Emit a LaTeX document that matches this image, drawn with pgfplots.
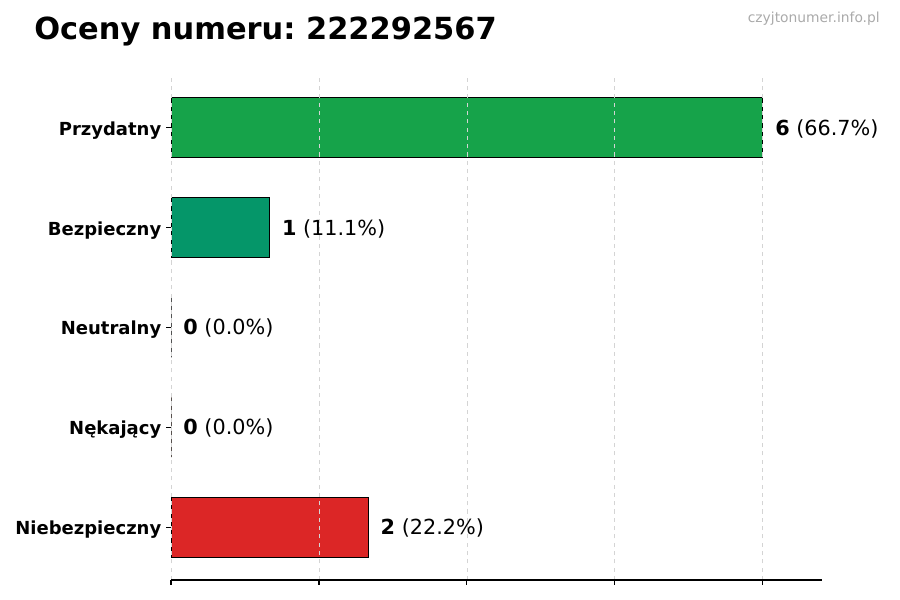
\documentclass[border=0pt]{standalone}
\usepackage{fontspec}
\setmainfont{DejaVu Sans}
\usepackage{pgfplots}
\pgfplotsset{compat=1.18}
\definecolor{przyd}{HTML}{16A34A}
\definecolor{bezp}{HTML}{059669}
\definecolor{neut}{HTML}{6B7280}
\definecolor{nekaj}{HTML}{EA580C}
\definecolor{niebe}{HTML}{DC2626}
\definecolor{gridc}{HTML}{D4D4D4}
\definecolor{wmk}{HTML}{AAAAAA}
\frenchspacing

\begin{document}
\begin{tikzpicture}[x=0.72bp,y=0.72bp]
\path[use as bounding box] (0,0) rectangle (900,600);
\node[anchor=base west, inner sep=0pt, font=\fontsize{22}{26}\selectfont\bfseries] at (34,560) {Oceny numeru: 222292567};
\node[anchor=base east, inner sep=0pt, text=wmk, font=\fontsize{10}{12}\selectfont] at (880,577.5) {czyjtonumer.info.pl};
\begin{axis}[
    at={(123.12bp,14.4bp)}, anchor=south west,
    scale only axis, width=468.72bp, height=363.6bp,
    xbar, bar shift=0pt, bar width=0.6,
    xmin=0, xmax=6.6, ymin=-0.53, ymax=4.53,
    xtick={0,1.5,3,4.5,6}, xticklabels={},
    ytick={0,1,2,3,4},
    yticklabels={Niebezpieczny,Nękający,Neutralny,Bezpieczny,Przydatny},
    yticklabel style={font=\fontsize{13}{15}\selectfont\bfseries, yshift=-1.8bp},
    axis x line*=bottom, axis y line*=left,
    y axis line style={draw=none},
    x axis line style={black, line width=0.8bp},
    tick align=outside, major tick length=3.5bp,
    tick style={black, line width=0.8bp},
    xmajorgrids, grid style={dashed, gridc, line width=0.6bp},
    axis on top, clip=false,
    point meta=explicit symbolic,
    nodes near coords,
    every node near coord/.append style={anchor=west, inner sep=0pt, xshift=8.6bp, yshift=-0.7bp, text=black, font=\fontsize{15}{18}\selectfont},
]
\addplot[fill=przyd, draw=black, line width=0.72bp] coordinates {(6,4) [{\textbf{6} (66.7\%)}]};
\addplot[fill=bezp, draw=black, line width=0.72bp] coordinates {(1,3) [{\textbf{1} (11.1\%)}]};
\addplot[fill=neut, draw=black, line width=0.72bp] coordinates {(0,2) [{\textbf{0} (0.0\%)}]};
\addplot[fill=nekaj, draw=black, line width=0.72bp] coordinates {(0,1) [{\textbf{0} (0.0\%)}]};
\addplot[fill=niebe, draw=black, line width=0.72bp] coordinates {(2,0) [{\textbf{2} (22.2\%)}]};
\end{axis}
\end{tikzpicture}
\end{document}
